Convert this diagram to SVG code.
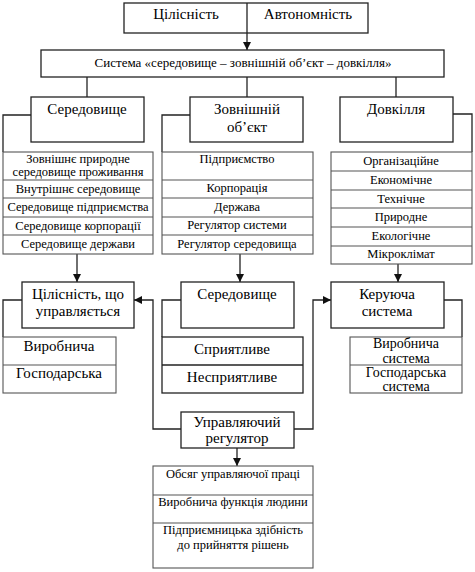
<svg xmlns="http://www.w3.org/2000/svg" width="475" height="572" viewBox="0 0 475 572">
<style>
text{font-family:"Liberation Serif","Times New Roman",serif;fill:#000;text-anchor:middle}
.h{font-size:15px}
.m{font-size:13px}
.k{font-size:14px}
.s{font-size:12.5px}
.box{fill:#fff;stroke:#222;stroke-width:1.3}
.lst{fill:#fff;stroke:#555;stroke-width:1.1}
.ln{fill:none;stroke:#222;stroke-width:1.3}
.conn{fill:none;stroke:#222;stroke-width:1.3}
</style>
<defs>
<marker id="ah" viewBox="0 0 8 8" refX="8" refY="4" markerWidth="8" markerHeight="8" markerUnits="userSpaceOnUse" orient="auto">
<path d="M0,0 L8,4 L0,8 Z" fill="#111"/>
</marker>
</defs>
<rect width="475" height="572" fill="#fff"/>

<g id="connectors">
<line class="conn" x1="247" y1="33" x2="247" y2="50" marker-end="url(#ah)"/>
<line class="conn" x1="87" y1="77" x2="87" y2="97"/>
<line class="conn" x1="247" y1="77" x2="247" y2="97"/>
<line class="conn" x1="396" y1="77" x2="396" y2="97"/>
<polyline class="conn" points="31,115 3,115 3,152"/>
<polyline class="conn" points="190,115 162,115 162,152"/>
<polyline class="conn" points="453,114 472,114 472,152"/>
<line class="conn" x1="77" y1="254" x2="77" y2="282" marker-end="url(#ah)"/>
<line class="conn" x1="240" y1="254" x2="240" y2="282" marker-end="url(#ah)"/>
<line class="conn" x1="398" y1="264" x2="398" y2="282" marker-end="url(#ah)"/>
<polyline class="conn" points="22,300 3,300 3,337"/>
<polyline class="conn" points="181,300 162,300 162,337"/>
<polyline class="conn" points="444,300 462,300 462,337"/>
<polyline class="conn" points="181,429 153,429 153,300 134,300" marker-end="url(#ah)"/>
<polyline class="conn" points="294,429 313,429 313,300 331,300" marker-end="url(#ah)"/>
<line class="conn" x1="237" y1="448" x2="237" y2="466" marker-end="url(#ah)"/>
</g>

<g id="top">
<rect class="box" x="124" y="3" width="244" height="30"/>
<line class="ln" x1="247" y1="3" x2="247" y2="33"/>
<text class="h" x="186" y="19">Цілісність</text>
<text class="h" x="308" y="19">Автономність</text>
</g>

<g id="system">
<rect class="box" x="41" y="50" width="403" height="27"/>
<text class="m" x="243" y="67">Система «середовище – зовнішній об’єкт – довкілля»</text>
</g>

<g id="seredovyshche">
<rect class="box" x="31" y="97" width="113" height="45"/>
<text class="h" x="87" y="114">Середовище</text>
</g>
<g id="seredovyshche-list">
<rect class="lst" x="3" y="152" width="150" height="102"/>
<line class="lst" x1="3" y1="180" x2="153" y2="180"/>
<line class="lst" x1="3" y1="198" x2="153" y2="198"/>
<line class="lst" x1="3" y1="217" x2="153" y2="217"/>
<line class="lst" x1="3" y1="235" x2="153" y2="235"/>
<text class="s" x="78" y="163">Зовнішнє природне</text>
<text class="s" x="78" y="176">середовище проживання</text>
<text class="s" x="78" y="193">Внутрішнє середовище</text>
<text class="s" x="78" y="211">Середовище підприємства</text>
<text class="s" x="78" y="230">Середовище корпорації</text>
<text class="s" x="78" y="248">Середовище держави</text>
</g>

<g id="zovnishnii">
<rect class="box" x="190" y="97" width="113" height="45"/>
<text class="h" x="247" y="114">Зовнішній</text>
<text class="h" x="247" y="132">об’єкт</text>
</g>
<g id="zovnishnii-list">
<rect class="lst" x="162" y="152" width="151" height="102"/>
<line class="lst" x1="162" y1="180" x2="313" y2="180"/>
<line class="lst" x1="162" y1="198" x2="313" y2="198"/>
<line class="lst" x1="162" y1="217" x2="313" y2="217"/>
<line class="lst" x1="162" y1="235" x2="313" y2="235"/>
<text class="s" x="237" y="163">Підприємство</text>
<text class="s" x="237" y="192">Корпорація</text>
<text class="s" x="237" y="211">Держава</text>
<text class="s" x="237" y="229">Регулятор системи</text>
<text class="s" x="237" y="248">Регулятор середовища</text>
</g>

<g id="dovkillia">
<rect class="box" x="340" y="97" width="113" height="45"/>
<text class="h" x="396" y="114">Довкілля</text>
</g>
<g id="dovkillia-list">
<rect class="lst" x="331" y="152" width="141" height="112"/>
<line class="lst" x1="331" y1="171" x2="472" y2="171"/>
<line class="lst" x1="331" y1="190" x2="472" y2="190"/>
<line class="lst" x1="331" y1="208" x2="472" y2="208"/>
<line class="lst" x1="331" y1="227" x2="472" y2="227"/>
<line class="lst" x1="331" y1="246" x2="472" y2="246"/>
<text class="s" x="401" y="165">Організаційне</text>
<text class="s" x="401" y="184">Економічне</text>
<text class="s" x="401" y="203">Технічне</text>
<text class="s" x="401" y="221">Природне</text>
<text class="s" x="401" y="240">Екологічне</text>
<text class="s" x="401" y="258">Мікроклімат</text>
</g>

<g id="tsilisnist">
<rect class="box" x="22" y="282" width="112" height="46"/>
<text class="h" x="78" y="299">Цілісність, що</text>
<text class="h" x="78" y="316">управляється</text>
</g>
<g id="tsilisnist-list">
<rect class="lst" x="3" y="337" width="113" height="56"/>
<line class="lst" x1="3" y1="365" x2="116" y2="365"/>
<text class="h" x="59" y="351">Виробнича</text>
<text class="h" x="59" y="378">Господарська</text>
</g>

<g id="seredovyshche2">
<rect class="box" x="181" y="282" width="113" height="46"/>
<text class="h" x="237" y="299">Середовище</text>
</g>
<g id="seredovyshche2-list">
<rect class="box" x="162" y="337" width="141" height="56"/>
<line class="ln" x1="162" y1="365" x2="303" y2="365"/>
<text class="h" x="232" y="354">Сприятливе</text>
<text class="h" x="232" y="382">Несприятливе</text>
</g>

<g id="keruiucha">
<rect class="box" x="331" y="282" width="113" height="46"/>
<text class="h" x="387" y="299">Керуюча</text>
<text class="h" x="387" y="316">система</text>
</g>
<g id="keruiucha-list">
<rect class="lst" x="350" y="337" width="112" height="56"/>
<line class="lst" x1="350" y1="365" x2="462" y2="365"/>
<text class="k" x="406" y="348">Виробнича</text>
<text class="k" x="406" y="363">система</text>
<text class="k" x="406" y="377">Господарська</text>
<text class="k" x="406" y="391">система</text>
</g>

<g id="rehuliator">
<rect class="box" x="181" y="412" width="113" height="36"/>
<text class="h" x="237" y="427">Управляючий</text>
<text class="h" x="237" y="443">регулятор</text>
</g>
<g id="rehuliator-list">
<rect class="lst" x="153" y="466" width="160" height="102"/>
<line class="lst" x1="153" y1="495" x2="313" y2="495"/>
<line class="lst" x1="153" y1="523" x2="313" y2="523"/>
<text class="s" x="233" y="478">Обсяг управляючої праці</text>
<text class="s" x="233" y="506">Виробнича функція людини</text>
<text class="s" x="233" y="534">Підприємницька здібність</text>
<text class="s" x="233" y="549">до прийняття рішень</text>
</g>
</svg>
